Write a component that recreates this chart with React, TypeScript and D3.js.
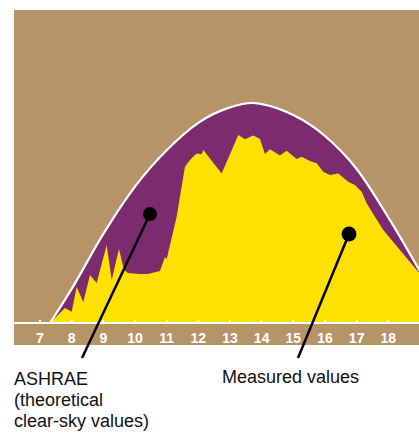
import React from "react";
import * as d3 from "d3";

const tickHours = [7, 8, 9, 10, 11, 12, 13, 14, 15, 16, 17, 18];

const ashraeHours = [7.32, 8, 9, 10, 11, 12, 13, 13.7, 14, 15, 16, 17, 18, 19];
const ashraeValues = [0, 155, 405, 620, 785, 910, 980, 1000, 995, 945, 850, 700, 480, 235];

const measuredHours = [
  7.316, 7.789, 8.0, 8.159, 8.367, 8.579, 8.79, 9.106, 9.264, 9.494, 9.652, 9.779,
  10.158, 10.41, 10.789, 10.947, 11.0, 11.316, 11.578, 11.736, 11.894, 11.96, 12.106,
  12.157, 12.737, 13.262, 13.473, 13.735, 13.947, 14.105, 14.263, 14.578, 14.79,
  15.106, 15.263, 15.525, 15.737, 15.945, 16.157, 16.42, 16.735, 16.946, 17.158,
  17.316, 17.84, 18.367, 18.945, 19.0,
];
const measuredValues = [
  0, 68, 51, 164, 95, 218, 182, 355, 195, 336, 241, 227,
  223, 223, 236, 300, 290, 483, 710, 741, 764, 771, 767,
  786, 680, 855, 835, 852, 836, 768, 790, 761, 783,
  745, 756, 736, 726, 688, 673, 680, 642, 627, 597,
  544, 423, 332, 233, 228,
];

const TAN = "#b79468";
const PURPLE = "#7c2b6f";
const YELLOW = "#ffe100";
const FONT = "'Liberation Sans', Arial, Helvetica, sans-serif";

export default function App() {
  const W = 419;
  const H = 433;
  const left = 14;
  const top = 10;
  const right = 419;
  const bandBottom = 345;
  const base = 323;

  const x = d3.scaleLinear().domain([7, 18]).range([40, 388.3]);
  const y = d3.scaleLinear().domain([0, 1000]).range([base, 103]);

  const ashraePts: [number, number][] = ashraeHours.map((h, i) => [h, ashraeValues[i]]);
  const measuredPts: [number, number][] = measuredHours.map((h, i) => [h, measuredValues[i]]);

  const ashraeArea = d3
    .area<[number, number]>()
    .x((d) => x(d[0]))
    .y0(y(0))
    .y1((d) => y(d[1]))
    .curve(d3.curveMonotoneX)(ashraePts) as string;
  const ashraeLine = d3
    .line<[number, number]>()
    .x((d) => x(d[0]))
    .y((d) => y(d[1]))
    .curve(d3.curveMonotoneX)(ashraePts) as string;
  const measuredArea = d3
    .area<[number, number]>()
    .x((d) => x(d[0]))
    .y0(y(0))
    .y1((d) => y(d[1]))
    .curve(d3.curveLinear)(measuredPts) as string;

  return (
    <svg
      width={W}
      height={H}
      style={{ position: "absolute", left: 0, top: 0, display: "block" }}
    >
      <defs>
        <clipPath id="plotClip">
          <rect x={left} y={top} width={right - left} height={base - top} />
        </clipPath>
      </defs>
      <rect x={left} y={top} width={right - left} height={bandBottom - top} fill={TAN} />
      <g clipPath="url(#plotClip)">
        <path d={ashraeArea} fill={PURPLE} />
        <path d={measuredArea} fill={YELLOW} />
        <path d={ashraeLine} fill="none" stroke="#fff" strokeWidth={2.2} />
      </g>
      <line x1={left} x2={right} y1={base} y2={base} stroke="#fff" strokeWidth={2.2} />
      {tickHours.map((h) => (
        <g key={h}>
          <rect x={x(h) - 1} y={base - 3} width={2} height={3} fill="#fff" />
          <text
            x={x(h)}
            y={342.5}
            textAnchor="middle"
            fill="#fff"
            fontFamily={FONT}
            fontWeight="bold"
            fontSize={14}
          >
            {h}
          </text>
        </g>
      ))}
      <line x1={150} y1={214} x2={82} y2={358} stroke="#000" strokeWidth={2.5} />
      <circle cx={150} cy={214} r={7} fill="#000" />
      <line x1={349} y1={234} x2={298} y2={358} stroke="#000" strokeWidth={2.5} />
      <circle cx={349} cy={234} r={7.5} fill="#000" />
      <text fontFamily={FONT} fontSize={18} fill="#111">
        <tspan x={14} y={385}>ASHRAE</tspan>
        <tspan x={14} y={406}>(theoretical</tspan>
        <tspan x={14} y={427}>clear-sky values)</tspan>
      </text>
      <text x={222} y={383} fontFamily={FONT} fontSize={18} fill="#111">
        Measured values
      </text>
    </svg>
  );
}
